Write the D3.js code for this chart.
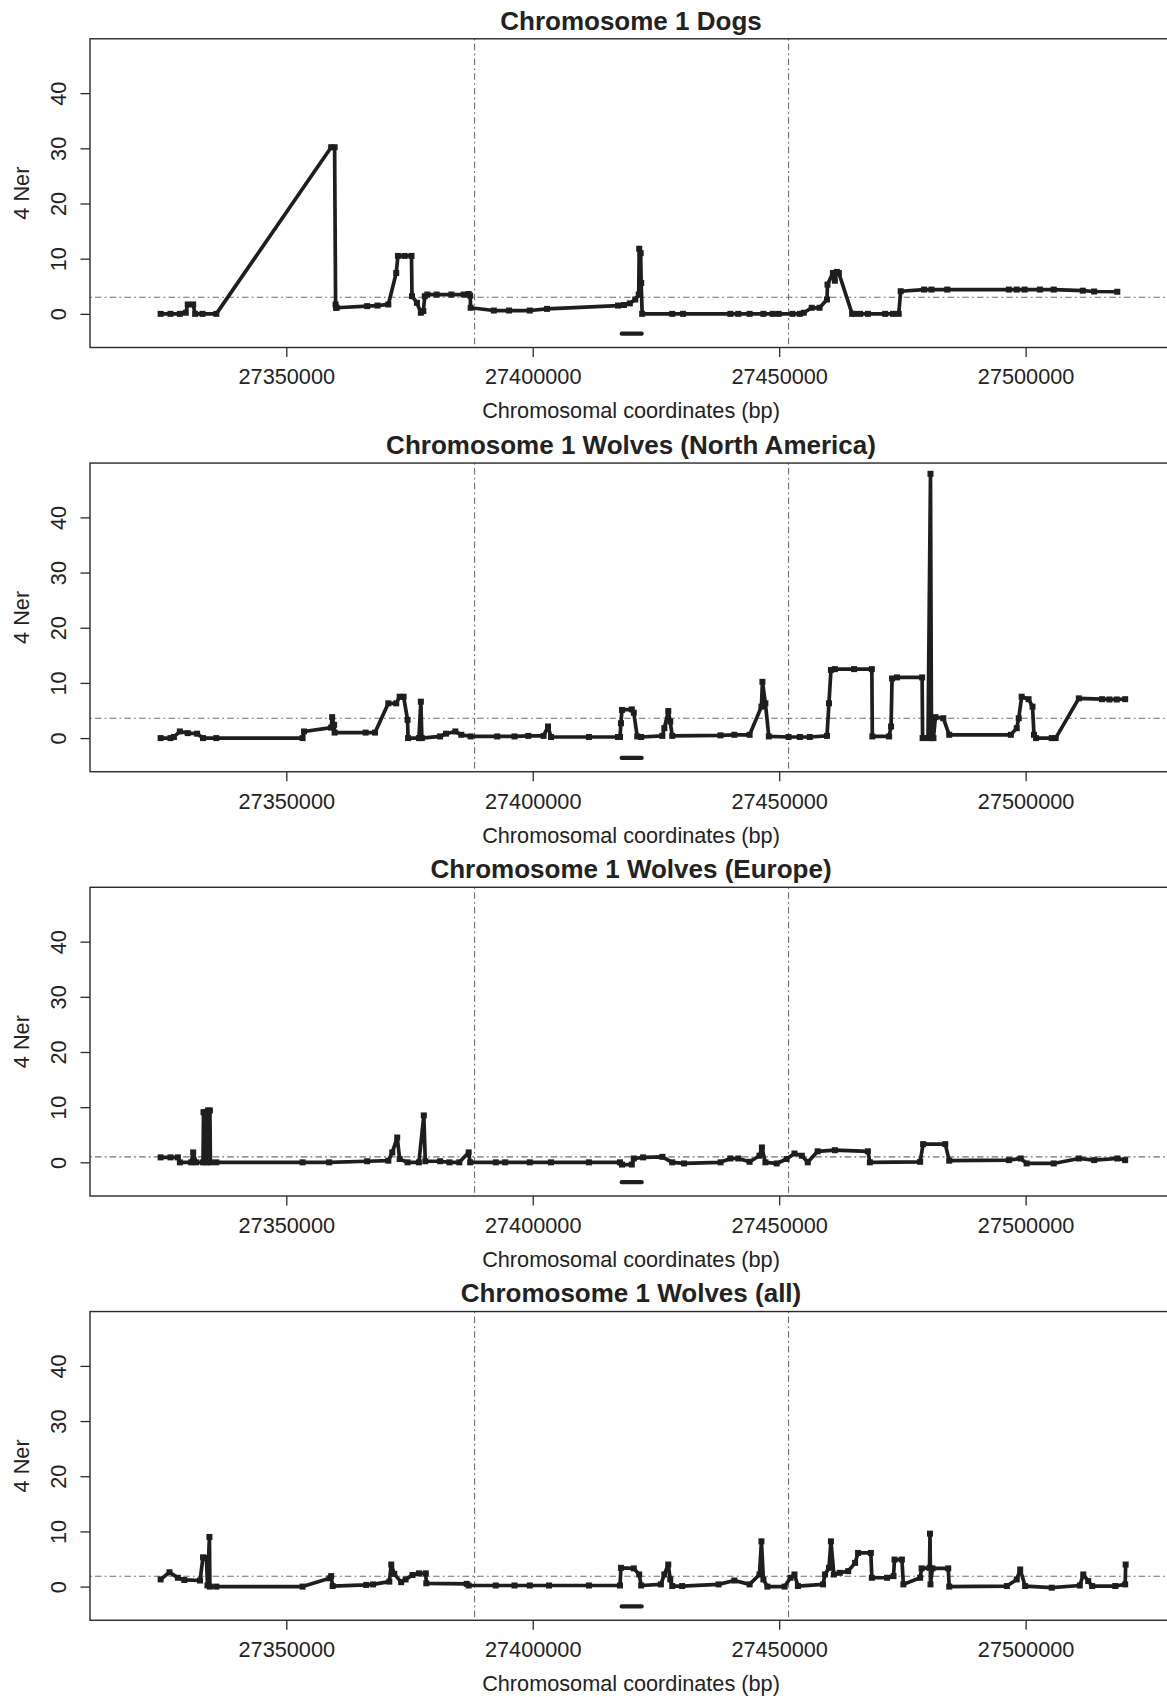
<!DOCTYPE html>
<html>
<head>
<meta charset="utf-8">
<script src="https://cdn.jsdelivr.net/npm/d3@7"></script>
<style>
  html, body { margin: 0; padding: 0; background: #fff; }
  svg { display: block; }
  text { font-family: "Liberation Sans", Arial, Helvetica, sans-serif; fill: #222; }
</style>
</head>
<body>
<svg id="chart" width="1167" height="1697"></svg>
<script>
// ---------------- DATA ----------------
const panelTitles = [
  "Chromosome 1 Dogs",
  "Chromosome 1 Wolves (North America)",
  "Chromosome 1 Wolves (Europe)",
  "Chromosome 1 Wolves (all)"
];
const xTickValues = [27350000, 27400000, 27450000, 27500000];
const yTickValues = [0, 10, 20, 30, 40];
const xLabel = "Chromosomal coordinates (bp)";
const yLabel = "4 Ner";
const xDomain = [27310170, 27529700];
const yDomain = [-6.1, 49.85];
// vertical reference lines (bp)
const vLines = [27388200, 27451900];
// horizontal reference level per panel
const hLevels = [3.0, 3.6, 1.0, 1.87];
// gene marker segment (bp) and level
const geneStart = 27418050, geneEnd = 27422100, geneLevel = -3.6;

// series: [position (bp), 4Ner]
const dogs = [
[27324500,0],[27326500,0],[27328400,0],[27329600,0.2],[27330000,1.7],[27331100,1.7],[27331500,0],[27333000,0],[27335800,0],
[27359100,30.2],[27359800,30.2],[27360000,1.7],[27360100,1.1],[27360200,1.1],[27366400,1.4],[27368500,1.5],[27370700,1.7],
[27372300,7.4],[27372650,10.5],[27374000,10.5],[27375400,10.5],[27375500,3.2],[27376500,2.0],[27377300,0.2],[27377800,0.5],
[27378100,3.2],[27378600,3.5],[27380500,3.5],[27383500,3.5],[27386000,3.5],[27387000,3.6],[27387300,3.3],[27387400,1.1],
[27392100,0.6],[27395200,0.6],[27399400,0.6],[27402900,0.9],
[27417300,1.5],[27418500,1.6],[27419700,1.9],[27420800,2.6],[27421500,3.5],[27421600,11.8],[27421900,11.0],[27422000,5.6],[27422200,0],
[27428300,0],[27430500,0],[27440100,0],[27441700,0],[27444000,0],[27446800,0],[27448700,0],[27449900,0],[27452700,0],[27454200,0],[27455000,0.2],
[27456600,1.1],[27458200,1.1],[27459700,2.6],[27459800,5.3],[27460900,7.4],[27461300,6.0],[27461700,7.6],[27462100,7.4],
[27464800,0],[27465200,0],[27466400,0],[27468000,0],[27471500,0],[27473100,0],[27474250,0],
[27474650,4.1],[27479400,4.4],[27480900,4.4],[27484100,4.4],[27496600,4.4],[27498200,4.4],[27499800,4.4],[27502900,4.4],
[27505700,4.4],[27511600,4.2],[27513900,4.05],[27518600,4.0]
];
const wolvesNA = [
[27324500,0],[27326500,0],[27327200,0.2],[27328400,1.2],[27330000,0.9],[27331900,0.8],[27333100,0],[27335800,0],[27353300,0],
[27353600,1.2],[27359100,1.9],[27359300,3.8],[27359700,2.4],[27359800,1.0],[27366100,1.0],[27368000,1.0],[27370700,6.3],
[27372300,6.3],[27373000,7.5],[27373800,7.5],[27374600,3.3],[27374700,0],[27376900,0],[27377300,6.6],[27377500,0],
[27381200,0.3],[27382400,0.8],[27384300,1.2],[27385500,0.6],[27387400,0.3],[27392800,0.3],[27396300,0.3],[27399100,0.4],
[27402200,0.4],[27403100,2.1],[27403700,0.2],[27411400,0.2],[27417300,0.2],[27417700,0.2],[27417900,2.7],[27418100,5.1],
[27420100,5.2],[27420500,4.6],[27421200,0.3],[27422000,0.2],[27426300,0.4],[27426700,1.8],[27427500,4.9],[27427900,3.0],
[27428300,0.4],[27438100,0.5],[27440900,0.6],[27444000,0.6],[27446400,5.7],[27446600,10.2],[27447200,6.3],[27447900,0.3],
[27451900,0.2],[27454200,0.2],[27456200,0.2],[27459700,0.4],[27460100,6.3],[27460500,12.35],[27461300,12.5],[27465200,12.5],
[27468800,12.5],[27468900,0.3],[27472300,0.3],[27472700,2.1],[27472900,10.8],[27473900,11.0],[27479000,11.0],[27479100,0],
[27480200,0],[27480700,47.9],[27480900,0],[27481300,0],[27481700,3.8],[27483300,3.6],[27484500,0.6],[27497000,0.6],
[27498200,1.8],[27498600,3.6],[27499200,7.5],[27500600,7.05],[27501400,5.7],[27501700,0.6],[27502100,0],[27505300,0],
[27506100,0],[27510800,7.2],[27515500,7.05],[27517000,7.0],[27518500,7.0],[27520200,7.05]
];
const wolvesEU = [
[27324500,0.9],[27326500,0.9],[27328000,0.9],[27328400,0],[27330700,0],[27331100,1.8],[27331700,0],[27333100,0],
[27333200,9.1],[27333700,9.1],[27333800,0],[27334100,9.4],[27334500,9.4],[27334600,0],[27335800,0],[27353300,0],
[27358700,0],[27366400,0.2],[27370700,0.3],[27371500,1.8],[27372500,4.5],[27373000,0.6],[27374600,0],[27376900,0],
[27377900,8.5],[27378200,0.2],[27381200,0.2],[27383100,0],[27385100,0],[27387000,1.8],[27387300,0],[27392500,0],
[27394400,0],[27399400,0],[27403700,0],[27411400,0],[27417700,0],[27418100,-0.4],[27420100,-0.4],[27420500,0.7],
[27422400,0.9],[27426300,1.0],[27428300,0],[27430700,-0.2],[27438100,0],[27440100,0.7],[27441700,0.7],[27444000,0.1],
[27446000,1.2],[27446500,2.7],[27447200,0],[27449500,-0.2],[27451500,0.6],[27453100,1.6],[27454600,1.2],[27455800,0],
[27457800,2.0],[27461300,2.2],[27468000,2.0],[27468400,0],[27478600,0.1],[27479200,3.3],[27483700,3.3],[27484500,0.3],
[27496600,0.4],[27499000,0.7],[27500200,-0.2],[27505700,-0.2],[27510800,0.7],[27513900,0.4],[27518600,0.7],[27520200,0.4]
];
const wolvesAll = [
[27324500,1.3],[27326300,2.6],[27328000,1.6],[27329300,1.2],[27332500,1.1],[27333100,5.3],[27333800,5.2],[27334000,0.2],
[27334400,9.0],[27334500,0],[27335800,0],[27353300,0],[27358800,1.5],[27359100,1.9],[27359400,0.1],[27366200,0.3],
[27367600,0.4],[27370900,0.9],[27371300,4.0],[27371900,2.3],[27373300,0.8],[27374200,1.3],[27375600,2.1],[27376900,2.4],
[27378300,2.4],[27378400,0.6],[27386600,0.5],[27387000,0.2],[27392500,0.2],[27396300,0.2],[27399400,0.2],[27403300,0.2],
[27411400,0.2],[27417700,0.2],[27417900,3.4],[27420500,3.3],[27421600,2.2],[27422000,0.2],[27426000,0.4],[27426700,2.2],
[27427500,4.0],[27427900,1.3],[27428300,0.1],[27430300,0.1],[27437700,0.4],[27440900,1.1],[27444000,0.4],[27446000,2.2],
[27446400,8.2],[27446800,1.3],[27447600,0],[27451100,0],[27452300,1.6],[27453100,2.2],[27453800,0.1],[27458900,0.4],
[27459300,2.2],[27460100,3.4],[27460500,8.2],[27461100,2.2],[27462300,2.5],[27464000,2.8],[27465400,4.3],[27466000,6.1],
[27468600,6.1],[27468800,1.6],[27471900,1.6],[27473200,1.9],[27473400,4.9],[27474900,4.9],[27475200,0.4],[27478600,1.6],
[27478900,3.3],[27480500,3.4],[27480600,9.6],[27480700,0.4],[27481100,3.3],[27484300,3.3],[27484500,0],[27496200,0.1],
[27498200,1.3],[27498900,3.1],[27499900,0.1],[27505300,-0.2],[27511000,0.2],[27511700,2.2],[27512700,1.0],[27513500,0.1],
[27518200,0.1],[27520200,0.4],[27520300,4.0]
];
const seriesList = [dogs, wolvesNA, wolvesEU, wolvesAll];

// ---------------- DRAW ----------------
(function draw() {
  const svg = d3.select("#chart");
  const W = 1167, H = 1697;
  const panelH = H / 4;
  const pLeft = 90, pRight = 1172, pTop = 38.8, pBottom = 347.5;
  const lineColor = "#1e1e1e";
  const dashColor = "#6e6e6e";
  const dashPattern = "1.8,3.2,6.5,3.2";
  const baseFont = 21.7;

  const x = d3.scaleLinear().domain(xDomain).range([pLeft, pRight]);

  seriesList.forEach((data, i) => {
    const g = svg.append("g").attr("transform", `translate(0,${i * panelH})`);
    const y = d3.scaleLinear().domain(yDomain).range([pBottom, pTop]);

    const clipId = "clip" + i;
    g.append("clipPath").attr("id", clipId)
      .append("rect").attr("x", pLeft).attr("y", pTop)
      .attr("width", pRight - pLeft).attr("height", pBottom - pTop);

    const plot = g.append("g").attr("clip-path", `url(#${clipId})`);

    vLines.forEach(v => {
      plot.append("line")
        .attr("x1", x(v)).attr("x2", x(v))
        .attr("y1", pTop).attr("y2", pBottom)
        .attr("stroke", dashColor).attr("stroke-width", 1.1)
        .attr("stroke-dasharray", dashPattern);
    });
    plot.append("line")
      .attr("x1", pLeft).attr("x2", pRight)
      .attr("y1", y(hLevels[i])).attr("y2", y(hLevels[i]))
      .attr("stroke", dashColor).attr("stroke-width", 1.1)
      .attr("stroke-dasharray", dashPattern);

    plot.append("line")
      .attr("x1", x(geneStart)).attr("x2", x(geneEnd))
      .attr("y1", y(geneLevel)).attr("y2", y(geneLevel))
      .attr("stroke", lineColor).attr("stroke-width", 4.2)
      .attr("stroke-linecap", "round");

    const line = d3.line().x(d => x(d[0])).y(d => y(d[1]));
    plot.append("path").datum(data)
      .attr("d", line)
      .attr("fill", "none")
      .attr("stroke", lineColor)
      .attr("stroke-width", 3.7)
      .attr("stroke-linejoin", "round");

    const s = 6;
    plot.selectAll("rect.pt").data(data).enter().append("rect")
      .attr("class", "pt")
      .attr("x", d => x(d[0]) - s / 2)
      .attr("y", d => y(d[1]) - s / 2)
      .attr("width", s).attr("height", s)
      .attr("fill", lineColor);

    g.append("rect")
      .attr("x", pLeft).attr("y", pTop)
      .attr("width", pRight - pLeft).attr("height", pBottom - pTop)
      .attr("fill", "none").attr("stroke", "#2a2a2a").attr("stroke-width", 1.4);

    const xa = g.append("g").attr("transform", `translate(0,${pBottom})`)
      .call(d3.axisBottom(x).tickValues(xTickValues).tickFormat(d3.format("d"))
        .tickSize(9.5).tickPadding(12));
    xa.select(".domain").remove();
    xa.selectAll("line").attr("stroke", "#2a2a2a").attr("stroke-width", 1.3);
    xa.selectAll("text").attr("font-size", baseFont).attr("fill", "#222")
      .attr("font-family", "Liberation Sans, Arial, sans-serif");

    const ya = g.append("g").attr("transform", `translate(${pLeft},0)`)
      .call(d3.axisLeft(y).tickValues(yTickValues).tickSize(9.5));
    ya.select(".domain").remove();
    ya.selectAll("line").attr("stroke", "#2a2a2a").attr("stroke-width", 1.3);
    ya.selectAll("text")
      .attr("x", null).attr("dy", null)
      .attr("text-anchor", "middle")
      .attr("dominant-baseline", "central")
      .attr("transform", "translate(-31.5,0) rotate(-90)")
      .attr("font-size", baseFont).attr("fill", "#222")
      .attr("font-family", "Liberation Sans, Arial, sans-serif");

    g.append("text")
      .attr("x", (pLeft + pRight) / 2).attr("y", 20.5)
      .attr("text-anchor", "middle").attr("dominant-baseline", "central")
      .attr("font-size", 26).attr("font-weight", "bold")
      .text(panelTitles[i]);

    g.append("text")
      .attr("x", (pLeft + pRight) / 2).attr("y", 410.8)
      .attr("text-anchor", "middle").attr("dominant-baseline", "central")
      .attr("font-size", baseFont)
      .text(xLabel);

    g.append("text")
      .attr("transform", `translate(21,${(pTop + pBottom) / 2}) rotate(-90)`)
      .attr("text-anchor", "middle").attr("dominant-baseline", "central")
      .attr("font-size", baseFont)
      .text(yLabel);
  });
})();
</script>
</body>
</html>
